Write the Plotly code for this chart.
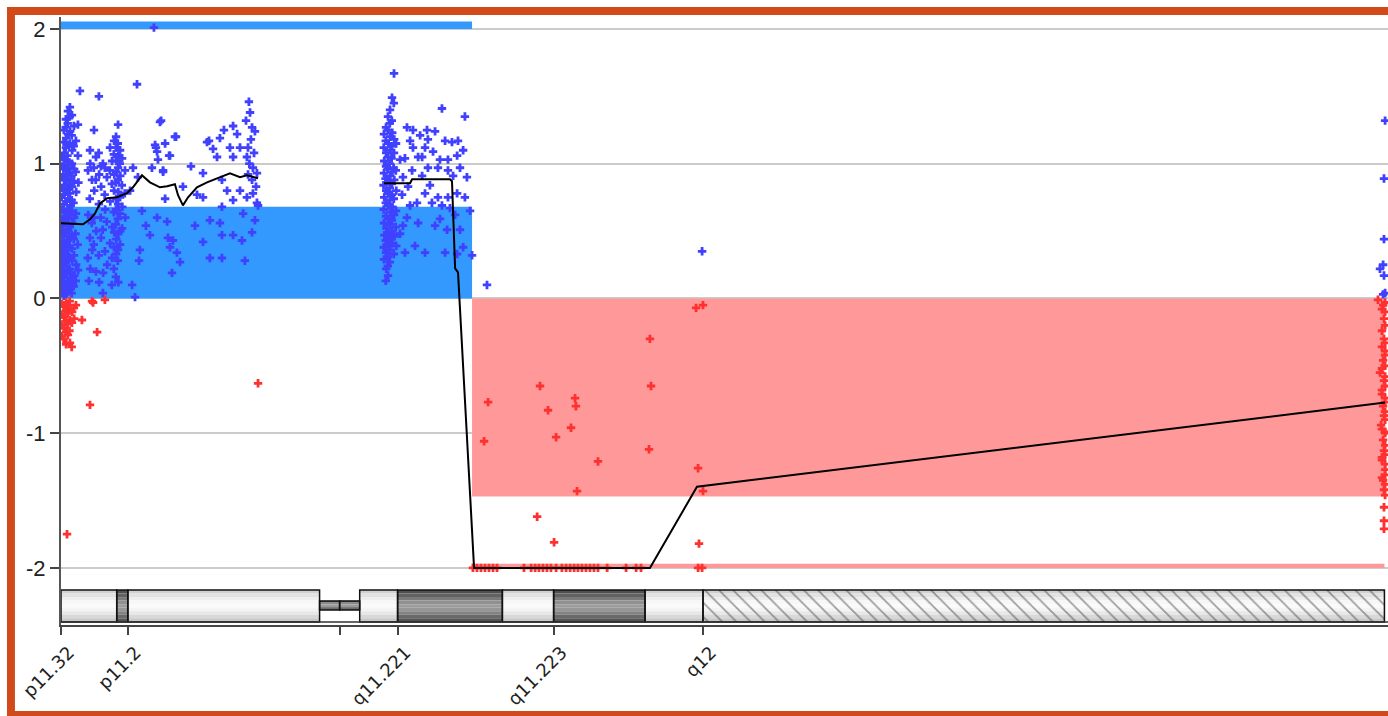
import plotly.graph_objects as go

# ---------------- chromosome Y cytobands (Mb) ----------------
band_start = [0.0, 2.5, 3.0, 11.6, 12.5, 13.4, 15.1, 19.8, 22.1, 26.2, 28.8]
band_end = [2.5, 3.0, 11.6, 12.5, 13.4, 15.1, 19.8, 22.1, 26.2, 28.8, 59.37]
band_stain = ["gneg", "gpos", "gneg", "acen", "acen", "gneg", "gpos", "gneg", "gpos", "gneg", "gvar"]

tick_pos = [0.0, 3.0, 12.5, 15.1, 22.1, 28.8]
tick_text = ["p11.32", "p11.2", "", "q11.221", "q11.223", "q12"]
y_ticks = [2, 1, 0, -1, -2]
y_tick_text = ["2", "1", "0", "-1", "-2"]

# ---------------- aberration calls ----------------
gain_start, gain_end, gain_level = 0.0, 18.44, 0.68
loss_start, loss_end, loss_level = 18.44, 59.37, -1.47
gain_flag_level = 2.055
loss_flag_level = -1.97

# ---------------- segmentation (moving average) line ----------------
seg_pos = [0.0, 0.99, 1.30, 1.53, 1.75, 2.06, 2.51, 2.96, 3.23, 3.63, 3.99, 4.44, 4.76, 5.11, 5.25,
           5.47, 5.70, 6.10, 6.55, 7.00, 7.58, 8.03, 8.34, 8.84, None,
           14.49, 15.66, 15.75, 16.55, 17.45, 17.54, 17.68, 17.81, 18.53, 26.42, 28.53, 59.40]
seg_lr = [0.558, 0.55, 0.587, 0.632, 0.706, 0.743, 0.751, 0.781, 0.825, 0.914, 0.862, 0.825, 0.833, 0.848, 0.766,
          0.691, 0.751, 0.825, 0.862, 0.892, 0.929, 0.900, 0.914, 0.892, None,
          0.855, 0.855, 0.885, 0.885, 0.885, 0.870, 0.223, 0.193, -2.0, -2.0, -1.398, -0.773]

# ---------------- probes: PAR1 (p11.32) ----------------
par1_pos = [0.05, 0.04, 0.06, 0.05, 0.03, 0.06, 0.04, 0.05, 0.07, 0.04, 0.05, 0.06, 0.03, 0.05, 0.04, 0.06, 0.05, 0.04,
            0.13, 0.12, 0.14, 0.13, 0.11, 0.14, 0.12, 0.13, 0.15, 0.12, 0.13, 0.14, 0.11, 0.13, 0.12, 0.14, 0.13, 0.12, 0.14, 0.13, 0.12,
            0.22, 0.21, 0.23, 0.22, 0.20, 0.23, 0.21, 0.22, 0.24, 0.21, 0.22, 0.23, 0.20, 0.22, 0.21, 0.23, 0.22, 0.21, 0.23, 0.22, 0.20, 0.22, 0.23,
            0.31, 0.30, 0.32, 0.31, 0.29, 0.32, 0.30, 0.31, 0.33, 0.30, 0.31, 0.32, 0.29, 0.31, 0.30, 0.32, 0.31, 0.30, 0.32, 0.31, 0.29, 0.31,
            0.40, 0.39, 0.41, 0.40, 0.38, 0.41, 0.39, 0.40, 0.42, 0.39, 0.40, 0.41, 0.38, 0.40, 0.39, 0.41, 0.40, 0.39, 0.41, 0.40, 0.38, 0.40,
            0.49, 0.48, 0.50, 0.49, 0.47, 0.50, 0.48, 0.49, 0.51, 0.48, 0.49, 0.50, 0.47, 0.49, 0.48, 0.50, 0.49, 0.48,
            0.58, 0.57, 0.59, 0.58, 0.56, 0.59, 0.57, 0.58, 0.60, 0.57, 0.58, 0.59,
            0.67, 0.66, 0.68, 0.67, 0.65, 0.68, 0.66, 0.67,
            0.76, 0.78, 0.75, 0.77, 0.85, 0.27, 0.76]
par1_lr = [1.05, 0.98, 0.90, 0.82, 0.75, 0.66, 0.58, 0.50, 0.42, 0.35, 0.27, 0.20, 0.12, 0.05, -0.04, -0.12, -0.20, -0.28,
           1.25, 1.16, 1.08, 0.99, 0.92, 0.84, 0.77, 0.70, 0.61, 0.54, 0.46, 0.38, 0.31, 0.24, 0.16, 0.08, 0.02, -0.06, -0.14, -0.22, -0.30,
           1.33, 1.27, 1.19, 1.12, 1.03, 0.95, 0.88, 0.80, 0.72, 0.64, 0.57, 0.49, 0.41, 0.33, 0.26, 0.18, 0.10, 0.03, -0.03, -0.09, -0.17, -0.25, -0.34,
           1.39, 1.30, 1.22, 1.14, 1.06, 0.97, 0.89, 0.81, 0.74, 0.66, 0.59, 0.51, 0.43, 0.36, 0.29, 0.21, 0.13, 0.06, -0.05, -0.11, -0.19, -0.27,
           1.42, 1.35, 1.24, 1.15, 1.01, 0.93, 0.85, 0.78, 0.69, 0.62, 0.53, 0.45, 0.39, 0.30, 0.22, 0.15, 0.07, -0.02, -0.08, -0.16, -0.24, -0.33,
           1.36, 1.21, 1.10, 1.00, 0.91, 0.83, 0.73, 0.65, 0.56, 0.47, 0.37, 0.28, 0.19, 0.11, 0.04, -0.10, -0.18, -0.36,
           1.28, 1.13, 0.96, 0.87, 0.71, 0.60, 0.44, 0.32, 0.17, 0.09, -0.07, -0.15,
           1.17, 0.94, 0.79, 0.63, 0.48, 0.25, 0.13, -0.05,
           1.06, 0.86, 0.40, 0.21, 1.54, -1.75, 1.29]

# ---------------- probes: p11.31 - p11.2 proximal ----------------
p112a_pos = [1.21, 1.22, 1.20, 1.25, 1.30, 1.31, 1.29, 1.30, 1.31, 1.39, 1.38, 1.40, 1.48, 1.47, 1.49, 1.48, 1.47,
             1.57, 1.56, 1.58, 1.57, 1.70, 1.69, 1.71, 1.70, 1.69, 1.71, 1.79, 1.80, 1.78, 1.79, 1.88, 1.87, 1.89, 1.88,
             1.97, 1.96, 1.98, 1.97, 2.06, 2.05, 2.07, 2.20, 2.19, 2.21, 2.20, 2.29, 2.28, 2.30, 2.29, 2.28,
             2.38, 2.37, 2.39, 2.38, 2.37, 2.39, 2.38, 2.37,
             2.47, 2.46, 2.48, 2.47, 2.46, 2.48, 2.47, 2.46, 2.48, 2.47, 2.46,
             2.56, 2.55, 2.57, 2.56, 2.55, 2.57, 2.56, 2.55, 2.57, 2.56, 2.55, 2.57,
             2.65, 2.64, 2.66, 2.65, 2.64, 2.66, 2.65, 2.74, 2.73, 2.75, 2.74, 2.87, 2.86, 2.88,
             0.94, 1.30, 1.39, 1.44, 1.62, 1.97]
p112a_lr = [0.95, 0.62, 0.30, 0.13, 1.10, 1.00, 0.74, 0.45, 0.22, 0.88, 0.56, 0.36, 1.25, 0.97, 0.80, 0.60, 0.40,
            1.05, 0.88, 0.50, 0.20, 1.50, 1.08, 0.92, 0.70, 0.32, 0.12, 0.98, 0.83, 0.60, 0.45, 1.00, 0.51, 0.19, 0.04,
            0.97, 0.77, 0.66, 0.35, 0.90, 0.57, 0.25, 1.12, 0.95, 0.72, 0.41, 1.02, 0.85, 0.53, 0.30, 0.10,
            1.17, 1.07, 0.92, 0.80, 0.64, 0.49, 0.38, 0.22,
            1.20, 1.12, 1.02, 0.94, 0.86, 0.74, 0.66, 0.55, 0.44, 0.33, 0.16,
            1.29, 1.15, 1.06, 0.97, 0.88, 0.79, 0.70, 0.59, 0.48, 0.36, 0.28, 0.12,
            1.10, 1.00, 0.91, 0.75, 0.63, 0.50, 0.40, 1.04, 0.84, 0.68, 0.52, 0.95, 0.78, 0.60,
            -0.16, -0.79, -0.02, -0.03, -0.25, -0.01]

# ---------------- probes: p11.2 distal ----------------
p112b_pos = [3.41, 4.49, 5.16, 4.26, 4.67, 4.85, 4.35, 4.08, 4.58, 5.83, 4.17, 8.43, 8.30, 7.72, 7.31, 7.90, 6.64, 7.13,
             8.57, 8.70, 6.55, 6.82, 7.58, 8.03, 8.39, 7.00, 7.72, 8.34, 6.37, 8.61, 8.79, 7.22, 7.72, 8.17, 8.12,
             7.22, 7.72, 6.68, 7.13, 6.37, 6.01, 6.68, 7.22, 8.57, 8.03, 7.45, 8.79, 8.61, 8.34, 6.37, 6.10, 7.22,
             4.22, 4.31, 4.89, 5.11, 4.44, 4.58, 5.47, 4.67, 4.31, 4.76, 3.81, 3.99, 4.80, 5.02, 4.89, 5.20, 5.34,
             4.98, 3.50, 3.32, 3.45, 3.23, 3.10, 3.63, 3.54, 3.19, 8.84, 8.70, 8.25, 8.48, 8.52, 8.45, 8.66, 8.57,
             8.75, 8.39, 8.84]
p112b_lr = [1.59, 1.32, 1.20, 1.12, 1.15, 1.06, 1.03, 0.97, 0.94, 0.98, 2.01, 1.46, 1.32, 1.28, 1.25, 1.22, 1.17, 1.19,
            1.27, 1.24, 1.16, 1.11, 1.12, 1.12, 1.12, 1.05, 1.05, 1.05, 0.93, 0.97, 0.93, 0.68, 0.73, 0.63, 0.43,
            0.47, 0.47, 0.58, 0.56, 0.42, 0.54, 0.30, 0.30, 0.49, 0.80, 0.80, 0.71, 0.78, 0.75, 0.75, 0.77, 0.88,
            1.14, 1.09, 1.06, 1.20, 1.31, 0.95, 0.83, 0.74, 0.60, 0.57, 0.54, 0.47, 0.45, 0.43, 0.38, 0.34, 0.27,
            0.19, 0.28, 0.01, 0.90, 0.97, 0.80, 0.65, 0.36, 0.10, 0.69, 0.58, 0.28, 1.38, 1.18, 1.00, 1.08, 0.88,
            0.83, 0.92, -0.63]

# ---------------- probes: q11.21 - q11.221 ----------------
q1121_pos = [14.49, 14.48, 14.50, 14.49, 14.47, 14.50, 14.48, 14.49, 14.51, 14.48, 14.49,
             14.58, 14.57, 14.59, 14.58, 14.56, 14.59, 14.57, 14.58, 14.60, 14.57, 14.58, 14.59, 14.57,
             14.67, 14.66, 14.68, 14.67, 14.65, 14.68, 14.66, 14.67, 14.69, 14.66, 14.67, 14.68, 14.66, 14.67,
             14.76, 14.75, 14.77, 14.76, 14.74, 14.77, 14.75, 14.76, 14.78, 14.75, 14.76, 14.77, 14.75,
             14.85, 14.84, 14.86, 14.85, 14.83, 14.86, 14.84, 14.85, 14.87, 14.84, 14.85, 14.86,
             14.94, 14.93, 14.95, 14.94, 14.92, 14.95, 14.93, 14.94, 14.96, 14.93,
             15.03, 15.02, 15.04, 15.03, 15.01, 15.04,
             17.09, 18.12, 15.52, 15.79, 16.42, 16.78, 16.46, 17.54, 17.81, 15.79, 16.33, 18.04, 16.69, 15.43,
             16.02, 16.20, 17.00, 17.36, 17.77, 17.90, 15.75, 16.46, 16.91, 17.36, 18.21, 17.59, 16.20, 15.34,
             15.57, 16.33, 16.91, 17.36, 17.77, 18.12, 15.97, 16.64, 17.09, 17.45, 15.52, 16.02, 17.00, 15.34,
             15.43, 16.33, 17.23, 17.77, 18.04, 18.44, 19.11, 15.21, 15.66, 16.11, 17.23, 16.55, 17.68, 15.88,
             16.78, 17.32, 17.90, 15.66, 15.21, 15.30, 18.35]
q1121_lr = [1.22, 1.12, 1.02, 0.93, 0.84, 0.75, 0.66, 0.56, 0.47, 0.38, 0.29,
            1.27, 1.17, 1.08, 0.98, 0.89, 0.80, 0.71, 0.61, 0.52, 0.43, 0.34, 0.22, 0.13,
            1.35, 1.25, 1.15, 1.05, 0.96, 0.87, 0.78, 0.69, 0.59, 0.49, 0.40, 0.31, 0.24, 0.17,
            1.40, 1.30, 1.20, 1.10, 1.00, 0.91, 0.82, 0.73, 0.64, 0.55, 0.45, 0.36, 0.27,
            1.49, 1.32, 1.23, 1.13, 1.04, 0.94, 0.85, 0.77, 0.68, 0.58, 0.50, 0.41,
            1.67, 1.45, 1.18, 1.08, 0.97, 0.88, 0.74, 0.62, 0.46, 0.33,
            1.15, 0.95, 0.80, 0.65, 0.53, 0.39,
            1.41, 1.35, 1.27, 1.25, 1.25, 1.24, 1.18, 1.16, 1.17, 1.12, 1.12, 1.10, 1.09, 1.04,
            1.05, 1.05, 1.03, 1.03, 1.06, 0.97, 0.95, 0.97, 0.97, 0.95, 0.90, 0.91, 0.91, 0.90,
            0.83, 0.78, 0.75, 0.75, 0.78, 0.75, 0.71, 0.71, 0.69, 0.67, 0.60, 0.56, 0.59, 0.54,
            0.34, 0.34, 0.34, 0.33, 0.38, 0.32, 0.10, 0.48, 1.17, 1.21, 1.17, 0.84, 0.62, 0.39,
            0.54, 0.51, 0.51, 0.69, 1.03, 0.77, 0.65]

# ---------------- probes: q11.221 - q11.23 (loss) ----------------
q11_loss_pos = [19.16, 18.98, 21.49, 21.36, 22.12, 21.85, 22.21, 23.06, 23.10, 22.88, 23.15, 24.09,
                26.42, 26.47, 26.38, 28.49, 28.80, 28.58, 28.80, 28.62, 28.58, 28.76, 28.76,
                18.48, 18.66, 18.84, 19.02, 19.20, 19.38, 19.56, 20.77, 21.09, 21.27, 21.44, 21.62, 21.80,
                21.98, 22.21, 22.47, 22.66, 22.84, 23.02, 23.19, 23.37, 23.55, 23.73, 23.91, 24.09, 24.50,
                25.35, 25.80, 26.02]
q11_loss_lr = [-0.77, -1.06, -0.65, -1.62, -1.81, -0.83, -1.03, -0.74, -0.80, -0.96, -1.43, -1.21,
               -0.30, -0.65, -1.12, -0.07, -0.05, -1.26, -1.43, -1.82, -2.0, -2.0, 0.35,
               -2.0, -2.0, -2.0, -2.0, -2.0, -2.0, -2.0, -2.0, -2.0, -2.0, -2.0, -2.0, -2.0,
               -2.0, -2.0, -2.0, -2.0, -2.0, -2.0, -2.0, -2.0, -2.0, -2.0, -2.0, -2.0, -2.0,
               -2.0, -2.0, -2.0]

# ---------------- probes: q12 distal (PAR2) ----------------
q12_pos = [59.40, 59.35, 59.35, 59.17, 59.31, 59.35, 59.40, 59.31,
           59.08, 59.31, 59.35, 59.26, 59.35, 59.40, 59.31, 59.17, 59.35, 59.26, 59.40, 59.31, 59.35, 59.22,
           59.40, 59.31, 59.35, 59.26, 59.40, 59.31, 59.35, 59.35, 59.35, 59.35,
           59.40, 59.40, 59.40, 59.40, 59.40, 59.40, 59.40, 59.40, 59.40, 59.40, 59.40, 59.40, 59.40, 59.40,
           59.40, 59.40, 59.40, 59.40,
           59.26, 59.26, 59.26, 59.26, 59.26, 59.26, 59.26]
q12_lr = [1.32, 0.89, 0.44, 0.22, 0.25, 0.17, 0.04, 0.03,
          -0.01, -0.05, -0.15, -0.24, -0.30, -0.39, -0.46, -0.55, -0.61, -0.68, -0.74, -0.80, -0.87, -0.94,
          -0.99, -1.05, -1.13, -1.20, -1.27, -1.35, -1.42, -1.55, -1.65, -1.71,
          -0.03, -0.10, -0.20, -0.33, -0.42, -0.50, -0.58, -0.65, -0.77, -0.84, -0.90, -1.00, -1.09, -1.16,
          -1.23, -1.31, -1.38, -1.46,
          -0.08, -0.36, -0.52, -0.71, -0.97, -1.18, -1.33]

# ====================================================================
all_pos = par1_pos + p112a_pos + p112b_pos + q1121_pos + q11_loss_pos + q12_pos
all_lr = par1_lr + p112a_lr + p112b_lr + q1121_lr + q11_loss_lr + q12_lr
gain_pts = [(p, v) for p, v in zip(all_pos, all_lr) if v >= 0]
loss_pts = [(p, v) for p, v in zip(all_pos, all_lr) if v < 0]

X_MAX = 59.53
Y_MIN, Y_MAX = -2.424, 2.089
IDEO_TOP, IDEO_BOT = -2.164, -2.401
CEN_TOP, CEN_BOT = -2.245, -2.312

fig = go.Figure()

shapes = []
# aberration rectangles
shapes.append(dict(type="rect", xref="x", yref="y", x0=gain_start, x1=gain_end, y0=0, y1=gain_level,
                   fillcolor="#3399ff", line=dict(width=0), layer="between"))
shapes.append(dict(type="rect", xref="x", yref="y", x0=gain_start, x1=gain_end, y0=2.0, y1=gain_flag_level,
                   fillcolor="#3399ff", line=dict(width=0), layer="between"))
shapes.append(dict(type="rect", xref="x", yref="y", x0=loss_start, x1=loss_end, y0=0, y1=loss_level,
                   fillcolor="#ff9999", line=dict(width=0), layer="between"))
shapes.append(dict(type="rect", xref="x", yref="y", x0=loss_start, x1=loss_end, y0=-2.0, y1=loss_flag_level,
                   fillcolor="#ff9999", line=dict(width=0), layer="between"))

# ideogram
light_prof = ["#d0d0d0", "#e2e2e2", "#eeeeee", "#f7f7f7", "#fafafa", "#f4f4f4", "#e8e8e8", "#d8d8d8", "#c8c8c8"]
dark_prof = ["#4e4e4e", "#626262", "#7a7a7a", "#909090", "#9c9c9c", "#969696", "#828282", "#6a6a6a", "#545454"]
for s, e, st in zip(band_start, band_end, band_stain):
    if st == "acen":
        top, bot = CEN_TOP, CEN_BOT
        prof = ["#5a5a5a", "#8a8a8a", "#9a9a9a", "#7a7a7a", "#5a5a5a"]
    else:
        top, bot = IDEO_TOP, IDEO_BOT
        prof = dark_prof if st == "gpos" else light_prof
    h = (top - bot) / len(prof)
    for i, c in enumerate(prof):
        shapes.append(dict(type="rect", xref="x", yref="y", x0=s, x1=e,
                           y0=top - (i + 1) * h, y1=top - i * h,
                           fillcolor=c, line=dict(width=0), layer="between"))
    shapes.append(dict(type="rect", xref="x", yref="y", x0=s, x1=e, y0=bot, y1=top,
                       fillcolor="rgba(0,0,0,0)", line=dict(color="#111111", width=1.5), layer="above"))
# base line under ideogram
shapes.append(dict(type="line", xref="paper", yref="y", x0=0, x1=1, y0=IDEO_BOT, y1=IDEO_BOT,
                   line=dict(color="#333333", width=1.5), layer="above"))

# orange frame
frame = "#d24a19"
shapes.append(dict(type="rect", xref="paper", yref="paper", x0=-0.0407, x1=-0.0347, y0=-0.17, y1=1.0164,
                   fillcolor=frame, line=dict(width=0), layer="above"))
shapes.append(dict(type="rect", xref="paper", yref="paper", x0=-0.0407, x1=1.01, y0=1.0033, y1=1.0164,
                   fillcolor=frame, line=dict(width=0), layer="above"))
shapes.append(dict(type="rect", xref="paper", yref="paper", x0=-0.0407, x1=1.01, y0=-0.17, y1=-0.1414,
                   fillcolor=frame, line=dict(width=0), layer="above"))

# hatched heterochromatin (q12)
q12_s, q12_e = band_start[-1], band_end[-1]
fig.add_trace(go.Bar(x=[(q12_s + q12_e) / 2], y=[IDEO_TOP - IDEO_BOT], base=[IDEO_BOT], width=[q12_e - q12_s],
                     marker=dict(color="rgba(0,0,0,0)", line=dict(width=0),
                                 pattern=dict(shape="\\", fgcolor="#444444", size=10, solidity=0.18,
                                              fillmode="overlay")),
                     hoverinfo="skip", showlegend=False))

# probes
fig.add_trace(go.Scatter(x=[p for p, _ in gain_pts], y=[v for _, v in gain_pts], mode="markers",
                         marker=dict(symbol="cross", size=7, color="#4040ff"), showlegend=False))
fig.add_trace(go.Scatter(x=[p for p, _ in loss_pts], y=[v for _, v in loss_pts], mode="markers",
                         marker=dict(symbol="cross", size=7, color="#ff3030"), showlegend=False))
# segmentation line
fig.add_trace(go.Scatter(x=seg_pos, y=seg_lr, mode="lines", line=dict(color="black", width=2),
                         connectgaps=False, showlegend=False))

fig.update_layout(
    width=1388, height=716,
    margin=dict(l=61, r=0, t=17, b=91, pad=0),
    paper_bgcolor="white", plot_bgcolor="white",
    showlegend=False, shapes=shapes, bargap=0,
    xaxis=dict(range=[0, X_MAX], tickvals=tick_pos, ticktext=tick_text, tickangle=-45,
               ticks="outside", ticklen=8, tickwidth=1.5, tickcolor="#444",
               showline=True, linecolor="#444", linewidth=2, showgrid=False, zeroline=False,
               ticklabelshift=8,
               tickfont=dict(family="DejaVu Sans", size=18, color="#222")),
    yaxis=dict(range=[Y_MIN, Y_MAX], tickvals=y_ticks, ticktext=y_tick_text,
               ticks="outside", ticklen=9, tickwidth=1.5, tickcolor="#444",
               showline=True, linecolor="#555", linewidth=2,
               showgrid=True, gridcolor="#cbcbcb", gridwidth=2, zeroline=False,
               tickfont=dict(family="Liberation Sans", size=22, color="#222")),
)

fig.write_html("out.html", config={"displayModeBar": False},
               post_script="document.body.style.margin='0px';document.body.style.overflow='hidden';")
